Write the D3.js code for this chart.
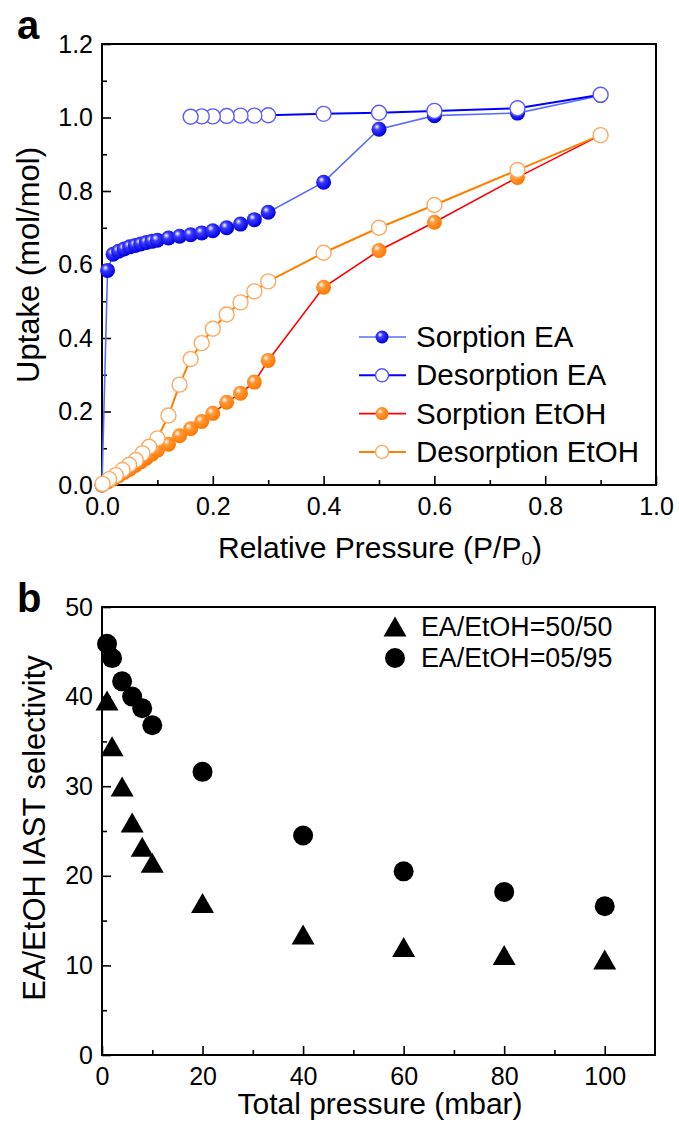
<!DOCTYPE html>
<html>
<head>
<meta charset="utf-8">
<script src="https://cdn.jsdelivr.net/npm/d3@7"></script>
<style>
  body { margin: 0; background: #fff; }
  text { font-family: "Liberation Sans", Arial, sans-serif; }
</style>
</head>
<body>
<svg id="chart"></svg>
<script>
// ---- data, panel a ----
const sorpEA_P = [0, 0.01, 0.02, 0.03, 0.04, 0.05, 0.06, 0.07, 0.08, 0.09, 0.1, 0.12, 0.14, 0.16, 0.18, 0.2, 0.225, 0.25, 0.275, 0.3, 0.4, 0.5, 0.6, 0.75, 0.9];
const sorpEA_U = [0, 0.584, 0.628, 0.636, 0.642, 0.648, 0.652, 0.656, 0.66, 0.663, 0.666, 0.672, 0.677, 0.681, 0.686, 0.692, 0.7, 0.71, 0.722, 0.742, 0.824, 0.968, 1.005, 1.012, 1.06];
const desEA_P = [0.9, 0.75, 0.6, 0.5, 0.4, 0.3, 0.275, 0.25, 0.225, 0.2, 0.18, 0.16];
const desEA_U = [1.062, 1.025, 1.018, 1.013, 1.01, 1.006, 1.005, 1.005, 1.004, 1.003, 1.003, 1.002];
const sorpEtOH_P = [0, 0.01, 0.02, 0.03, 0.04, 0.05, 0.06, 0.07, 0.08, 0.09, 0.1, 0.12, 0.14, 0.16, 0.18, 0.2, 0.225, 0.25, 0.275, 0.3, 0.4, 0.5, 0.6, 0.75, 0.9];
const sorpEtOH_U = [0, 0.008, 0.016, 0.025, 0.034, 0.043, 0.053, 0.063, 0.073, 0.084, 0.095, 0.111, 0.134, 0.153, 0.173, 0.195, 0.225, 0.25, 0.28, 0.339, 0.538, 0.638, 0.715, 0.837, 0.952];
const desEtOH_P = [0.9, 0.75, 0.6, 0.5, 0.4, 0.3, 0.275, 0.25, 0.225, 0.2, 0.18, 0.16, 0.14, 0.12, 0.1, 0.085, 0.073, 0.061, 0.049, 0.037, 0.025, 0.013, 0.001];
const desEtOH_U = [0.952, 0.857, 0.762, 0.7, 0.632, 0.554, 0.527, 0.497, 0.464, 0.425, 0.386, 0.343, 0.273, 0.189, 0.127, 0.104, 0.086, 0.068, 0.055, 0.041, 0.027, 0.016, 0.003];
const legendA = ["Sorption EA", "Desorption EA", "Sorption EtOH", "Desorption EtOH"];

// ---- data, panel b ----
const pressures = [1, 2, 4, 6, 8, 10, 20, 40, 60, 80, 100];
const sel5050 = [39.5, 34.4, 29.9, 25.9, 23.2, 21.4, 16.9, 13.4, 12.0, 11.1, 10.6];
const sel0595 = [45.9, 44.3, 41.7, 40.0, 38.7, 36.8, 31.6, 24.5, 20.5, 18.2, 16.6];
const legendB = ["EA/EtOH=50/50", "EA/EtOH=05/95"];

const svg = d3.select("#chart").attr("width", 679).attr("height", 1124);

// sphere-look gradients for filled markers
const defs = svg.append("defs");
function sphere(id, light, base) {
  const g = defs.append("radialGradient").attr("id", id)
    .attr("cx", "40%").attr("cy", "40%").attr("r", "60%")
    .attr("fx", "35%").attr("fy", "32%");
  g.append("stop").attr("offset", "0%").attr("stop-color", "#ffffff");
  g.append("stop").attr("offset", "35%").attr("stop-color", light);
  g.append("stop").attr("offset", "100%").attr("stop-color", base);
}
sphere("blueBall", "#3a3aff", "#0000dd");
sphere("orangeBall", "#ff9a3a", "#ff7800");

const tickFont = 25;

// generic framed axes
function drawAxes(x, y, xMajor, xMinor, yMajor, yMinor, xFmt, yFmt) {
  const [x0, x1] = x.range();
  const [y0, y1] = y.range();
  const g = svg.append("g");
  g.append("g").attr("transform", `translate(0,${y0})`)
    .call(d3.axisBottom(x).tickValues(xMinor).tickSizeInner(-5).tickSizeOuter(0).tickFormat(""));
  g.append("g").attr("transform", `translate(0,${y0})`)
    .call(d3.axisBottom(x).tickValues(xMajor).tickSizeInner(-9).tickSizeOuter(0).tickPadding(12).tickFormat(xFmt));
  g.append("g").attr("transform", `translate(${x0},0)`)
    .call(d3.axisLeft(y).tickValues(yMinor).tickSizeInner(-5).tickSizeOuter(0).tickFormat(""));
  g.append("g").attr("transform", `translate(${x0},0)`)
    .call(d3.axisLeft(y).tickValues(yMajor).tickSizeInner(-9).tickSizeOuter(0).tickPadding(9).tickFormat(yFmt));
  g.selectAll(".domain").remove();
  g.selectAll(".tick line").attr("stroke", "#000").attr("stroke-width", 1.6);
  g.selectAll(".tick text").attr("font-size", tickFont).attr("fill", "#000")
    .style("font-family", "'Liberation Sans', Arial, sans-serif");
  g.append("rect").attr("x", x0).attr("y", y1).attr("width", x1 - x0).attr("height", y0 - y1)
    .attr("fill", "none").attr("stroke", "#000").attr("stroke-width", 2);
}

// ================= panel a =================
const xA = d3.scaleLinear().domain([0, 1]).range([102, 656]);
const yA = d3.scaleLinear().domain([0, 1.2]).range([485, 44]);

drawAxes(xA, yA,
  d3.range(0, 1.01, 0.2), d3.range(0.1, 1, 0.2),
  d3.range(0, 1.21, 0.2), d3.range(0.1, 1.2, 0.2),
  d3.format(".1f"), d3.format(".1f"));

const seriesA = [
  { P: sorpEA_P, U: sorpEA_U, line: "#5a6cff", lw: 1.6, fill: "url(#blueBall)", stroke: "none", r: 7.5 },
  { P: desEA_P, U: desEA_U, line: "#0000ff", lw: 2, fill: "#fff", stroke: "#5b5bff", r: 7.5 },
  { P: sorpEtOH_P, U: sorpEtOH_U, line: "#ff0000", lw: 1.6, fill: "url(#orangeBall)", stroke: "none", r: 7.5 },
  { P: desEtOH_P, U: desEtOH_U, line: "#ff8000", lw: 2, fill: "#fff", stroke: "#ffa860", r: 7.5 }
];

const lineA = d3.line().x(d => xA(d[0])).y(d => yA(d[1]));
seriesA.forEach(s => {
  const pts = s.P.map((p, i) => [p, s.U[i]]);
  svg.append("path").datum(pts).attr("d", lineA)
    .attr("fill", "none").attr("stroke", s.line).attr("stroke-width", s.lw);
  svg.append("g").selectAll("circle").data(pts).join("circle")
    .attr("cx", d => xA(d[0])).attr("cy", d => yA(d[1])).attr("r", s.r)
    .attr("fill", s.fill).attr("stroke", s.stroke).attr("stroke-width", 1.4);
});

// legend a
const legA = svg.append("g");
seriesA.forEach((s, i) => {
  const yy = 337 + i * 38.3;
  legA.append("line").attr("x1", 359).attr("x2", 406).attr("y1", yy).attr("y2", yy)
    .attr("stroke", s.line).attr("stroke-width", s.lw);
  legA.append("circle").attr("cx", 382).attr("cy", yy).attr("r", 6.5)
    .attr("fill", s.fill).attr("stroke", s.stroke).attr("stroke-width", 1.4);
  legA.append("text").attr("x", 416).attr("y", yy + 10).attr("font-size", 29.5).text(legendA[i]);
});

// titles a
const tA = svg.append("text").attr("x", 380).attr("y", 558).attr("text-anchor", "middle").attr("font-size", 30);
tA.append("tspan").text("Relative Pressure (P/P");
tA.append("tspan").attr("font-size", 19).attr("dy", 7).text("0");
tA.append("tspan").attr("dy", -7).text(")");
svg.append("text").attr("transform", "translate(39,265) rotate(-90)").attr("text-anchor", "middle")
  .attr("font-size", 31).text("Uptake (mol/mol)");
svg.append("text").attr("x", 17).attr("y", 39).attr("font-size", 40).attr("font-weight", "bold").text("a");

// ================= panel b =================
const xB = d3.scaleLinear().domain([0, 110]).range([102, 655]);
const yB = d3.scaleLinear().domain([0, 50]).range([1055, 607]);

drawAxes(xB, yB,
  d3.range(0, 101, 20), d3.range(10, 110, 20),
  d3.range(0, 51, 10), d3.range(5, 50, 10),
  d3.format("d"), d3.format("d"));

const tri = "M0,-10.5L11.5,9.5L-11.5,9.5Z";
svg.append("g").selectAll("path").data(pressures.map((p, i) => [p, sel5050[i]])).join("path")
  .attr("d", tri).attr("transform", d => `translate(${xB(d[0])},${yB(d[1])})`).attr("fill", "#000");
svg.append("g").selectAll("circle").data(pressures.map((p, i) => [p, sel0595[i]])).join("circle")
  .attr("cx", d => xB(d[0])).attr("cy", d => yB(d[1])).attr("r", 10).attr("fill", "#000");

// legend b
svg.append("path").attr("d", tri).attr("transform", "translate(395,627)").attr("fill", "#000");
svg.append("circle").attr("cx", 395).attr("cy", 658).attr("r", 10).attr("fill", "#000");
svg.append("text").attr("x", 421).attr("y", 636).attr("font-size", 26.8).text(legendB[0]);
svg.append("text").attr("x", 421).attr("y", 667).attr("font-size", 26.8).text(legendB[1]);

// titles b
svg.append("text").attr("x", 380).attr("y", 1114).attr("text-anchor", "middle")
  .attr("font-size", 30).text("Total pressure (mbar)");
svg.append("text").attr("transform", "translate(45,828) rotate(-90)").attr("text-anchor", "middle")
  .attr("font-size", 31).text("EA/EtOH IAST selectivity");
svg.append("text").attr("x", 17).attr("y", 612).attr("font-size", 40).attr("font-weight", "bold").text("b");
</script>
</body>
</html>
